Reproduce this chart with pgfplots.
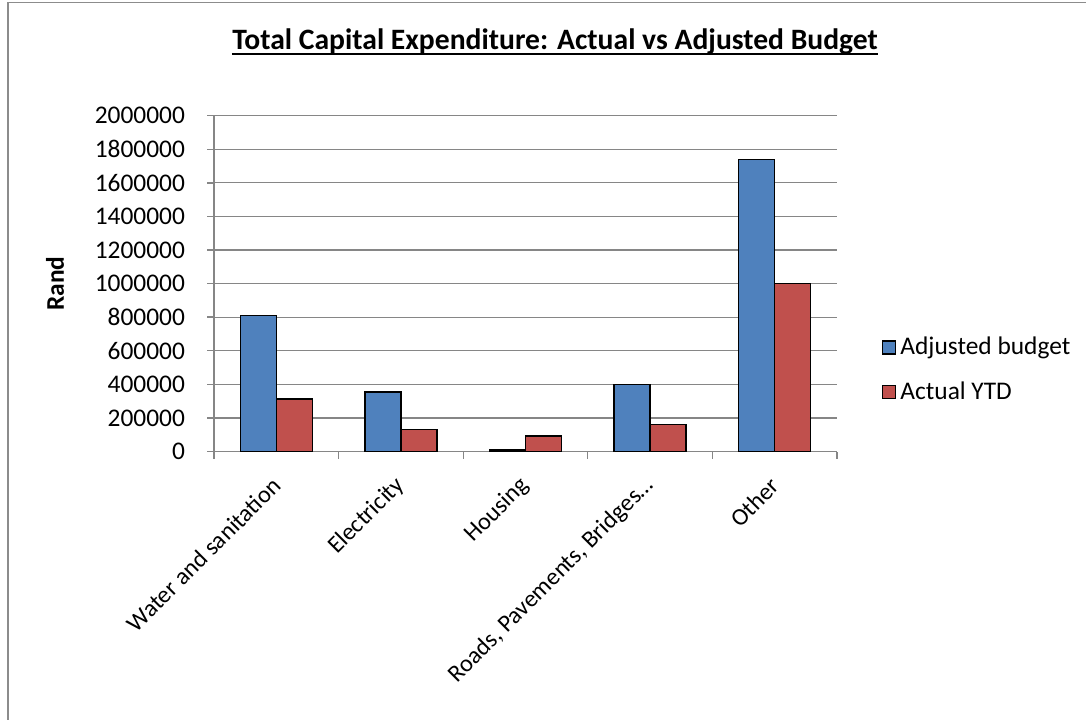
\documentclass[border=0pt]{standalone}
\usepackage{fontspec}
\setmainfont{Carlito}
\usepackage{pgfplots}
\pgfplotsset{compat=1.18}
\definecolor{xblue}{HTML}{4F81BD}
\definecolor{xred}{HTML}{C0504D}
\definecolor{xgrid}{HTML}{868686}
\definecolor{xframe}{HTML}{8C8C8C}
\pgfplotsset{sq legend/.style={legend image code/.code={\draw[##1, draw=black, line width=0.6pt] (0pt,-3.25pt) rectangle (6.5pt,3.25pt);}}}
\begin{document}
\begin{tikzpicture}
\path[use as bounding box] (0,0) rectangle (543pt,359.5pt);
\draw[xframe, line width=0.75pt] (4pt,-2pt) -- (4pt,358.2pt) -- (545pt,358.2pt);
\node[anchor=base, inner sep=0pt, font=\fontsize{14.8}{18}\selectfont\bfseries] (t) at (277.5pt,334.5pt) {Total Capital Expenditure: Actual vs Adjusted Budget};
\draw[line width=1pt] ([yshift=-2pt]t.base west) -- ([yshift=-2pt]t.base east);
\begin{axis}[
  at={(107pt,133.75pt)}, anchor=south west,
  scale only axis, width=311.5pt, height=167.9pt,
  ybar=0pt, bar width=18pt,
  xmin=-0.5, xmax=4.5, ymin=0, ymax=2000000,
  ytick={0,200000,...,2000000},
  scaled y ticks=false,
  /pgf/number format/assume math mode=true,
  yticklabel style={/pgf/number format/fixed, /pgf/number format/1000 sep={}, xshift=-7.5pt},
  axis lines*=left,
  axis line style={xgrid, line width=0.7pt},
  tick align=outside,
  major tick length=3.5pt,
  tick style={xgrid, line width=0.7pt},
  ymajorgrids, grid style={xgrid, line width=0.6pt},
  xtick={-0.5,0.5,...,4.5}, xticklabels={},
  tick label style={font=\fontsize{12.7}{15}\selectfont},
  extra x ticks={0,1,2,3,4},
  extra x tick labels={Water and sanitation, Electricity, Housing, {Roads, Pavements, Bridges…}, Other},
  extra x tick style={major tick length=0pt, tick label style={xshift=2.5pt, yshift=-12.75pt, rotate=45, anchor=east, font=\fontsize{12.1}{14}\selectfont}},
  ylabel={Rand},
  every axis y label/.style={at={(rel axis cs:0,0.5)}, xshift=-79.5pt, rotate=90, anchor=center, font=\fontsize{12.7}{15}\selectfont\bfseries},
  legend style={at={(1.072,0.243)}, anchor=west, draw=none, fill=none, inner sep=0pt, row sep=8pt, font=\fontsize{12.7}{15}\selectfont},
  legend cell align=left,
]
\addplot[fill=xblue, draw=black, line width=0.8pt, sq legend] coordinates {(0,811000) (1,356000) (2,9000) (3,400000) (4,1740000)};
\addplot[fill=xred, draw=black, line width=0.8pt, sq legend] coordinates {(0,311000) (1,132000) (2,94000) (3,162000) (4,1000000)};
\legend{Adjusted budget, Actual YTD}
\end{axis}
\end{tikzpicture}
\end{document}
